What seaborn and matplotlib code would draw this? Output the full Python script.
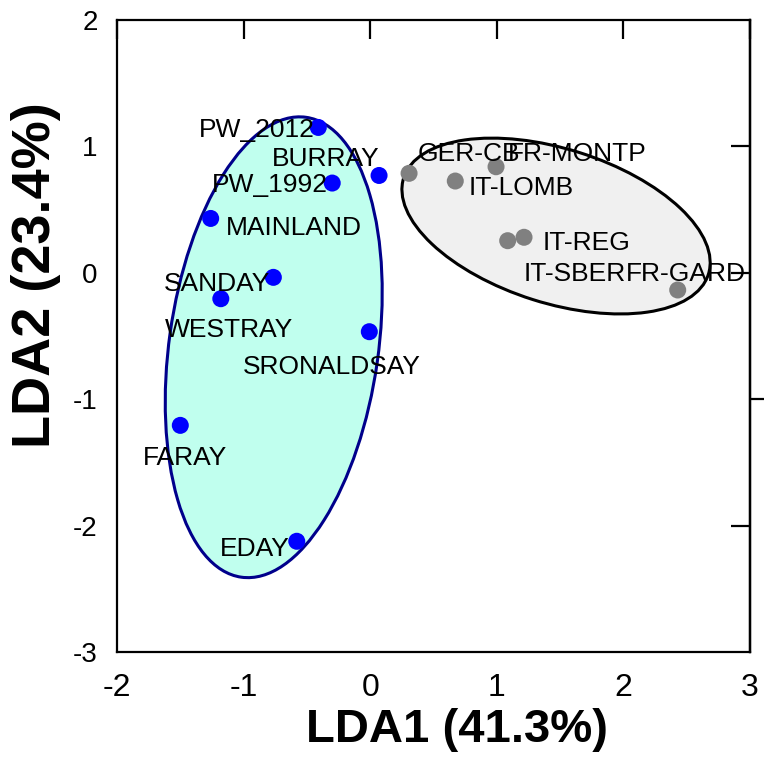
import matplotlib
matplotlib.use('Agg')
import matplotlib.pyplot as plt
from matplotlib import font_manager
from matplotlib.patches import Ellipse
import numpy as np
import pandas as pd
import seaborn as sns

sns.set_style("white")
plt.rcParams['font.family'] = ['Liberation Sans', 'DejaVu Sans']
plt.rcParams['axes.unicode_minus'] = False
plt.rcParams['text.color'] = 'black'
plt.rcParams['axes.labelcolor'] = 'black'
plt.rcParams['xtick.color'] = 'black'
plt.rcParams['ytick.color'] = 'black'

# Orkney groups (blue)
orkney_names = ['PW_2012', 'BURRAY', 'PW_1992', 'MAINLAND', 'SANDAY',
                'WESTRAY', 'SRONALDSAY', 'FARAY', 'EDAY']
orkney_lda1 = [-0.41, 0.07, -0.30, -1.26, -0.765, -1.18, -0.007, -1.50, -0.58]
orkney_lda2 = [1.15, 0.77, 0.71, 0.43, -0.036, -0.205, -0.466, -1.207, -2.124]

# continental groups (grey)
europe_names = ['GER-CB', 'FR-MONTP', 'IT-LOMB', 'IT-SBER', 'IT-REG', 'FR-GARD']
europe_lda1 = [0.307, 0.994, 0.672, 1.086, 1.215, 2.429]
europe_lda2 = [0.787, 0.839, 0.726, 0.254, 0.281, -0.136]

# ellipses: centre lda1, centre lda2, width, height, angle
orkney_ellipse = [-0.762, -0.589, 3.674, 1.652, 82.0]
europe_ellipse = [1.468, 0.37, 2.525, 1.22, -17.6]

x_ticks = [-2, -1, 0, 1, 2, 3]
y_ticks = [-3, -2, -1, 0, 1, 2]

# label placement, offsets in pixels (dx, dy up), alignment
label_pos = {
    'PW_2012': (-4, 0, 'right'), 'BURRAY': (0, 19, 'right'),
    'PW_1992': (-4, 0, 'right'), 'MAINLAND': (15, -7, 'left'),
    'SANDAY': (-3, -4, 'right'), 'WESTRAY': (8, -29, 'center'),
    'SRONALDSAY': (-38, -33, 'center'), 'FARAY': (5, -30, 'center'),
    'EDAY': (-7, -5, 'right'), 'GER-CB': (9, 22, 'left'),
    'FR-MONTP': (12, 15, 'left'), 'IT-LOMB': (13, -5, 'left'),
    'IT-REG': (19, -3, 'left'), 'IT-SBER': (16, -31, 'left'),
    'FR-GARD': (8, 18, 'center'),
}

df = pd.DataFrame({
    'name': orkney_names + europe_names,
    'lda1': orkney_lda1 + europe_lda1,
    'lda2': orkney_lda2 + europe_lda2,
    'group': ['orkney'] * len(orkney_names) + ['europe'] * len(europe_names),
})

fig = plt.figure(figsize=(7.64, 7.71), dpi=100)
ax = fig.add_axes([117 / 764, 1 - 652 / 771, 633 / 764, 632 / 771])

for (cx, cy, w, h, ang), fc, ec in [(orkney_ellipse, '#C0FFEE', '#00008B'),
                                     (europe_ellipse, '#F0F0F0', 'black')]:
    ax.add_patch(Ellipse((cx, cy), w, h, angle=ang, facecolor=fc,
                         edgecolor=ec, linewidth=2.2, zorder=1))

sns.scatterplot(data=df, x='lda1', y='lda2', hue='group',
                palette={'orkney': '#0000FF', 'europe': '#808080'},
                s=150, linewidth=0, legend=False, ax=ax, zorder=3)

px = 0.72  # points per pixel at 100 dpi
for _, row in df.iterrows():
    dx, dy, ha = label_pos[row['name']]
    ax.annotate(row['name'], (row['lda1'], row['lda2']),
                xytext=(dx * px, (dy - 9.3) * px), textcoords='offset points',
                ha=ha, va='baseline', fontsize=19, color='black', zorder=4)

ax.set_xlim(-2, 3)
ax.set_ylim(-3, 2)
ax.set_xticks(x_ticks)
ax.set_yticks(y_ticks)

narrow = 'Liberation Sans Narrow'
names = {f.name for f in font_manager.fontManager.ttflist}
xfam = narrow if narrow in names else 'Liberation Sans'
for lab in ax.get_xticklabels():
    lab.set_fontfamily(xfam)
    lab.set_fontsize(23)
for lab in ax.get_yticklabels():
    lab.set_fontsize(20)

for sp in ax.spines.values():
    sp.set_linewidth(1.6)
    sp.set_color('black')
ax.tick_params(axis='both', direction='in', length=14, width=1.6,
               top=True, right=False, colors='black')
ax.tick_params(axis='x', pad=15)
ax.tick_params(axis='y', pad=14)

sec_in = ax.secondary_yaxis('right')
sec_in.set_yticks([-2, 0, 1])
sec_in.tick_params(direction='in', length=14, width=1.6, labelright=False)
sec_in.spines['right'].set_linewidth(1.6)
sec_out = ax.secondary_yaxis('right')
sec_out.set_yticks([-1])
sec_out.tick_params(direction='out', length=11, width=1.6, labelright=False)
sec_out.spines['right'].set_linewidth(1.6)

ax.set_xlabel('LDA1 (41.3%)', fontsize=34, fontweight='bold')
ax.set_ylabel('LDA2 (23.4%)', fontsize=39, fontweight='bold')
ax.xaxis.label.set_va('center')
ax.yaxis.label.set_va('center')
ax.xaxis.set_label_coords(0.537, -0.123)
ax.yaxis.set_label_coords(-0.128, 0.5965)

fig.savefig('out.png', dpi=100)
